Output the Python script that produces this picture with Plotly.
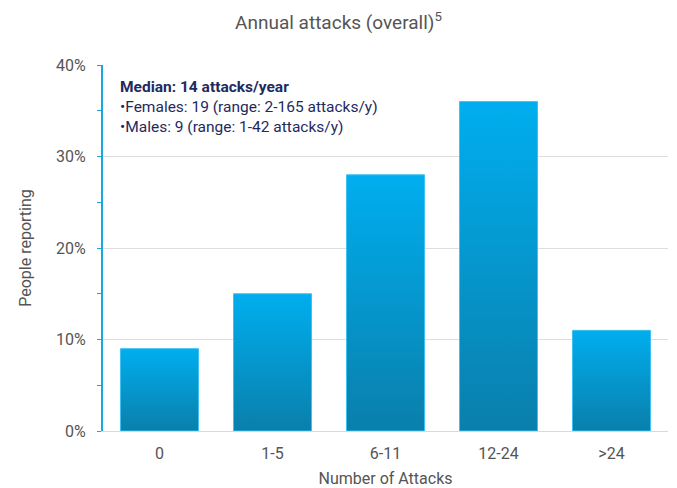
import plotly.graph_objects as go

categories = ["0", "1-5", "6-11", "12-24", ">24"]
values = [9, 15, 28, 36, 11]  # percent of people reporting
y_ticks = [0, 10, 20, 30, 40]
y_ticklabels = ["0%", "10%", "20%", "30%", "40%"]

BAR_W = 0.69
fig = go.Figure()
for i, (cat, v) in enumerate(zip(categories, values)):
    x0, x1 = i - BAR_W / 2, i + BAR_W / 2
    fig.add_trace(go.Scatter(
        x=[x0, x1, x1, x0, x0], y=[0, 0, v, v, 0],
        mode="lines", fill="toself",
        line=dict(width=1, color="#3fc0ef"),
        fillgradient=dict(type="vertical",
                          colorscale=[[0, "#0a7fab"], [1, "#00aeef"]]),
        hoverinfo="text", text=f"{cat}: {v}%",
        showlegend=False,
    ))

fig.update_layout(
    width=677, height=488,
    margin=dict(l=103, r=9, t=65, b=57),
    plot_bgcolor="white", paper_bgcolor="white",
    font=dict(family="Roboto", color="#555555", size=16),
    title=dict(text="Annual attacks (overall)<sup>5</sup>", x=0.5, xanchor="center",
               y=0.955, yanchor="middle", font=dict(size=19, color="#555555")),
    xaxis=dict(
        range=[-0.5, len(categories) - 0.5],
        tickvals=list(range(len(categories))), ticktext=categories,
        showgrid=False, zeroline=False, automargin=False,
        showline=True, linecolor="#d9d9d9", linewidth=1,
        ticks="", ticklabelstandoff=8,
        title=dict(text="Number of Attacks", standoff=11, font=dict(size=16)),
    ),
    yaxis=dict(
        range=[0, 40], tickvals=y_ticks, ticktext=y_ticklabels,
        showgrid=True, gridcolor="#dedede", gridwidth=1,
        zeroline=False, automargin=False,
        showline=True, linecolor="#1aa7e0", linewidth=2,
        ticks="", ticklabelstandoff=12,
        minor=dict(dtick=5, ticks="outside", ticklen=4, tickcolor="#1aa7e0",
                   showgrid=False),
        title=dict(text="People reporting", standoff=20, font=dict(size=16)),
    ),
)

fig.add_annotation(
    xref="paper", yref="paper", x=0.027, y=0.97, xanchor="left", yanchor="top",
    align="left", showarrow=False,
    text=("<b>Median: 14 attacks/year</b><br>"
          "•Females: 19 (range: 2-165 attacks/y)<br>"
          "•Males: 9 (range: 1-42 attacks/y)"),
    font=dict(size=15.5, color="#1f2a5e"),
)

fig.write_html("out.html")
